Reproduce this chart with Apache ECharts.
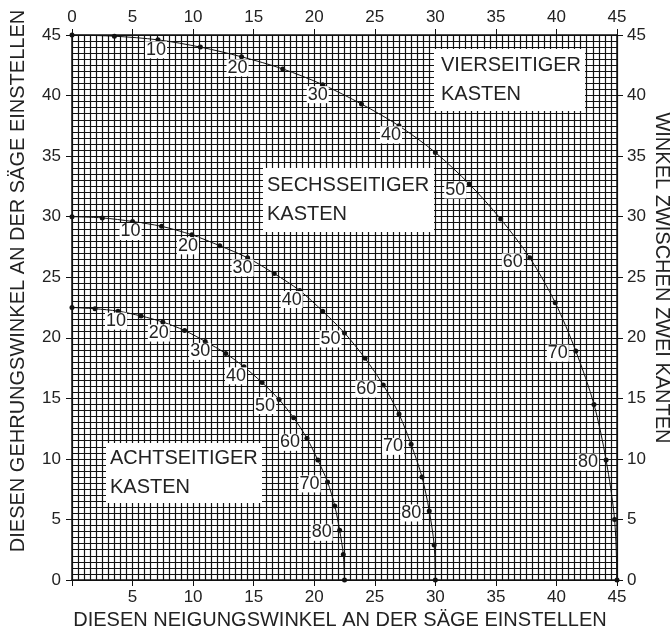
<!DOCTYPE html>
<html>
<head>
<meta charset="utf-8">
<script src="https://cdn.jsdelivr.net/npm/echarts@6/dist/echarts.min.js"></script>
<style>
  html, body { margin: 0; padding: 0; background: #fff; }
  #chart { width: 672px; height: 632px; }
</style>
</head>
<body>
<div id="chart"></div>
<script>
// Neigungswinkel der Seitenwand (Grad) fuer jeden Punkt auf den Kurven
const tilt = [0, 5, 10, 15, 20, 25, 30, 35, 40, 45, 50, 55, 60, 65, 70, 75, 80, 85, 90]

// vierseitiger Kasten: Neigung (x) und Gehrung (y)
const vierBevel = [0, 3.5, 7.1, 10.6, 14.0, 17.4, 20.7, 23.9, 27.0, 30.0, 32.8, 35.4, 37.8, 39.9, 41.6, 43.1, 44.1, 44.8, 45]
const vierMiter = [45, 44.9, 44.6, 44.0, 43.2, 42.2, 40.9, 39.3, 37.5, 35.3, 32.7, 29.8, 26.6, 22.9, 18.9, 14.5, 9.9, 5.0, 0]

// sechsseitiger Kasten
const sechsBevel = [0, 2.5, 5.0, 7.4, 9.9, 12.2, 14.5, 16.7, 18.8, 20.7, 22.5, 24.2, 25.7, 27.0, 28.0, 28.9, 29.5, 29.9, 30]
const sechsMiter = [30, 29.9, 29.6, 29.2, 28.5, 27.6, 26.6, 25.3, 23.9, 22.2, 20.4, 18.3, 16.1, 13.7, 11.2, 8.5, 5.7, 2.9, 0]

// achtseitiger Kasten
const achtBevel = [0, 1.9, 3.8, 5.7, 7.5, 9.3, 11.0, 12.7, 14.2, 15.7, 17.1, 18.3, 19.4, 20.3, 21.1, 21.7, 22.1, 22.4, 22.5]
const achtMiter = [22.5, 22.4, 22.2, 21.8, 21.3, 20.6, 19.7, 18.7, 17.6, 16.3, 14.9, 13.4, 11.7, 9.9, 8.1, 6.1, 4.1, 2.1, 0]

const axisTicks = [0, 5, 10, 15, 20, 25, 30, 35, 40, 45]
const labelledTilts = [10, 20, 30, 40, 50, 60, 70, 80]

// where each angle label sits relative to its dot (px)
const labelShift = {
  10: [-2, 10], 20: [-4, 11], 30: [-5, 10], 40: [-8, 9],
  50: [-14, 6], 60: [-17, 4], 70: [-18, 2], 80: [-18, 2]
}

const font = 'Liberation Sans, Arial, sans-serif'
const ink = '#222'
const gridLine = { color: '#111', width: 1.2 }

function buildData (bevel, miter) {
  return tilt.map(function (t, i) {
    let item = { value: [bevel[i], miter[i]] }
    if (labelledTilts.indexOf(t) >= 0) {
      item.label = {
        show: true,
        formatter: String(t),
        position: 'inside',
        offset: labelShift[t]
      }
    }
    return item
  })
}

function curve (name, bevel, miter) {
  return {
    name: name,
    type: 'line',
    smooth: 0.3,
    symbol: 'circle',
    symbolSize: 5,
    showAllSymbol: true,
    itemStyle: { color: '#111' },
    lineStyle: { color: '#111', width: 1 },
    label: {
      fontFamily: font,
      fontSize: 18,
      color: ink,
      backgroundColor: '#fff',
      padding: [0, 1, 0, 1],
      lineHeight: 17
    },
    z: 5,
    data: buildData(bevel, miter)
  }
}

function valueAxis (pos, withGrid, hideZero, margin) {
  return {
    type: 'value',
    position: pos,
    min: 0,
    max: 45,
    interval: 5,
    axisLine: { show: true, onZero: false, lineStyle: { color: '#111', width: 1.5 } },
    axisTick: { show: true, inside: false, length: 6, lineStyle: { color: '#111' } },
    axisLabel: {
      show: true,
      margin: margin,
      fontFamily: font,
      fontSize: 17,
      color: ink,
      formatter: function (v) {
        if (hideZero && v === 0) return ''
        return axisTicks.indexOf(v) >= 0 ? String(v) : ''
      }
    },
    splitLine: { show: withGrid, lineStyle: gridLine },
    minorTick: { show: false, splitNumber: 10 },
    minorSplitLine: { show: withGrid, lineStyle: gridLine }
  }
}

function box (x, y, w, h, text, tx) {
  return [
    { type: 'rect', z: 100, shape: { x: x, y: y, width: w, height: h }, style: { fill: '#fff' } },
    {
      type: 'text',
      z: 101,
      x: tx,
      y: y + h / 2,
      style: {
        text: text,
        font: '20px ' + font,
        fill: ink,
        lineHeight: 29,
        textAlign: 'left',
        textVerticalAlign: 'middle'
      }
    }
  ]
}

let myChart = echarts.init(document.getElementById('chart'))
myChart.setOption({
  animation: false,
  backgroundColor: '#fff',
  grid: { left: 72, top: 35, width: 545, height: 545 },
  xAxis: [
    valueAxis('bottom', true, true, 9),
    valueAxis('top', false, false, 9)
  ],
  yAxis: [
    valueAxis('left', true, false, 11),
    valueAxis('right', false, false, 10)
  ],
  graphic: [].concat(
    box(434, 49, 151, 62, 'VIERSEITIGER\nKASTEN', 441),
    box(263, 168, 171, 64, 'SECHSSEITIGER\nKASTEN', 267),
    box(106, 443, 156, 60, 'ACHTSEITIGER\nKASTEN', 110),
    [
      {
        type: 'text',
        x: 340,
        y: 620,
        style: { text: 'DIESEN NEIGUNGSWINKEL AN DER SÄGE EINSTELLEN', font: '20px ' + font, fill: ink, textAlign: 'center', textVerticalAlign: 'middle' }
      },
      {
        type: 'text',
        x: 18,
        y: 281,
        rotation: Math.PI / 2,
        style: { text: 'DIESEN GEHRUNGSWINKEL AN DER SÄGE EINSTELLEN', font: '20px ' + font, fill: ink, textAlign: 'center', textVerticalAlign: 'middle' }
      },
      {
        type: 'text',
        x: 662,
        y: 278,
        rotation: -Math.PI / 2,
        style: { text: 'WINKEL ZWISCHEN ZWEI KANTEN', font: '20px ' + font, fill: ink, textAlign: 'center', textVerticalAlign: 'middle' }
      }
    ]
  ),
  series: [
    curve('Vierseitig', vierBevel, vierMiter),
    curve('Sechsseitig', sechsBevel, sechsMiter),
    curve('Achtseitig', achtBevel, achtMiter)
  ]
})
</script>
</body>
</html>
